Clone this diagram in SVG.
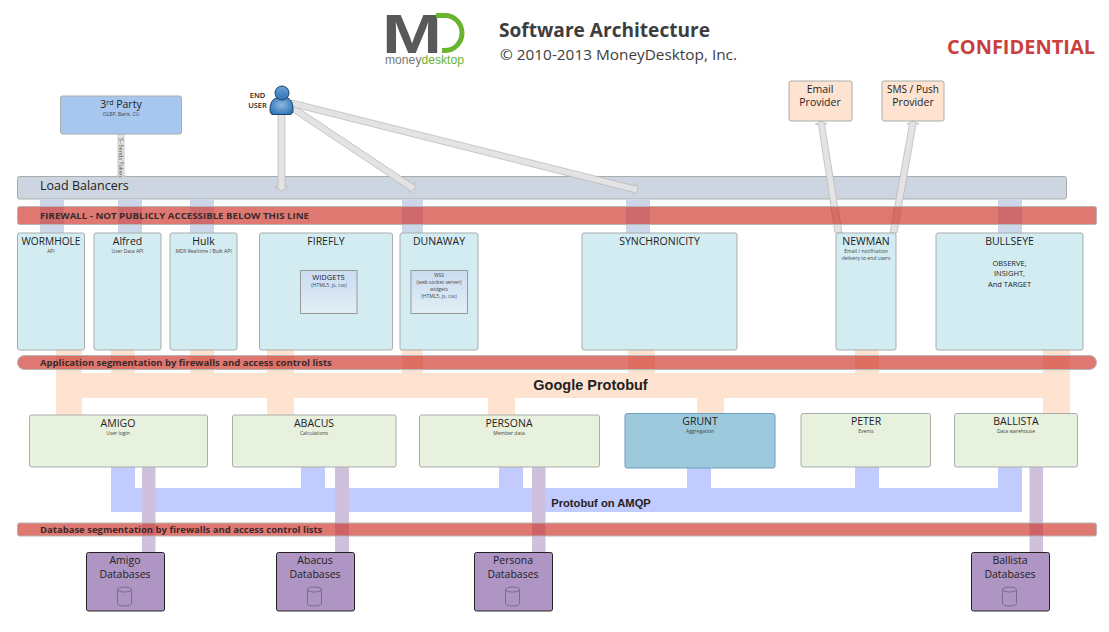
<svg xmlns="http://www.w3.org/2000/svg" width="1109" height="632" viewBox="0 0 1109 632">
<defs>
<linearGradient id="wg" x1="0" y1="0" x2="0" y2="1"><stop offset="0" stop-color="#cbdcf2"/><stop offset="1" stop-color="#e2eff6"/></linearGradient>
<linearGradient id="pg" x1="0" y1="0" x2="0" y2="1"><stop offset="0" stop-color="#6aa3d8"/><stop offset="1" stop-color="#2f73b5"/></linearGradient>
<radialGradient id="bg" cx="0.5" cy="0.45" r="0.6"><stop offset="0" stop-color="#8db8e2"/><stop offset="1" stop-color="#2f74b8"/></radialGradient>
</defs>
<style>
text{font-family:"Open Sans","Noto Sans","Liberation Sans",sans-serif;fill:#222}
.m{text-anchor:middle}
.t{font-size:10.5px}
.s{font-size:5px;fill:#444}
.n{stroke:#a9adab;stroke-width:1}
.app{fill:#d3ecf2}
.svc{fill:#e8f0de}
.db{fill:#af95c3;stroke:#222;stroke-width:1}
.cyl{fill:none;stroke:#6f5f80;stroke-width:.8}
.bar{fill:#cf3026;fill-opacity:.65;stroke:#b5b5b5;stroke-width:1}
.bl{fill:#ccd8ea}.or{fill:#fde3d0}.ind{fill:#c2cbfd}.li{fill:#cfc0dc}
.ar{fill:#e3e3e3;stroke:#b4b4b4;stroke-width:.7}
.bt{font-weight:700;font-size:9.5px;fill:#3a2a2a}
</style>
<g id="header">
<text x="382" y="53" textLength="60" lengthAdjust="spacingAndGlyphs" style="font-family:'Liberation Sans',sans-serif;font-size:55px;font-weight:700;fill:#58595b">M</text>
<path d="M436 15.500H445A17 17.500 0 0 1 445 50.500H442" fill="none" stroke="#69b32e" stroke-width="5"/>
<text x="385" y="64" textLength="79" lengthAdjust="spacingAndGlyphs" style="font-family:'Liberation Sans',sans-serif;font-size:12.500px;fill:#777"><tspan>money</tspan><tspan style="fill:#69b32e">desktop</tspan></text>
<text x="499" y="37" style="font-size:20px;font-weight:700;fill:#3d3d3d" textLength="211" lengthAdjust="spacingAndGlyphs">Software Architecture</text>
<text x="500" y="60" style="font-size:14.500px;fill:#3d3d3d" textLength="237" lengthAdjust="spacingAndGlyphs">© 2010-2013 MoneyDesktop, Inc.</text>
<text x="947" y="54" style="font-size:20px;font-weight:700;fill:#c8413d" textLength="148" lengthAdjust="spacingAndGlyphs">CONFIDENTIAL</text>
</g>
<g id="load-balancers"><rect class="n" x="17.500" y="176.500" width="1049" height="22.500" rx="2" fill="#cdd5e0"/><text x="40" y="190" style="font-size:12.500px">Load Balancers</text></g>
<g id="connectors">
<g class="bl"><rect x="40" y="199" width="24" height="34"/><rect x="118" y="199" width="24" height="34"/><rect x="190" y="199" width="24" height="34"/><rect x="402" y="199" width="21" height="34"/><rect x="626" y="199" width="24" height="34"/><rect x="998" y="199" width="24" height="34"/></g>
<g class="or"><rect x="56" y="373" width="1014" height="25"/><rect x="56" y="350" width="26" height="65"/><rect x="111" y="350" width="24" height="25"/><rect x="190" y="350" width="24" height="25"/><rect x="267" y="350" width="27" height="65"/><rect x="402" y="350" width="21" height="25"/><rect x="628" y="350" width="27" height="25"/><rect x="855" y="350" width="24" height="25"/><rect x="1043" y="350" width="27" height="65"/><rect x="488" y="396" width="27" height="19"/><rect x="697" y="396" width="27" height="19"/></g>
<g class="ind"><rect x="111" y="488" width="911" height="24"/><rect x="111" y="467" width="24" height="45"/><rect x="301" y="467" width="24" height="25"/><rect x="499" y="467" width="24" height="25"/><rect x="687" y="467" width="24" height="25"/><rect x="855" y="467" width="24" height="25"/><rect x="998" y="467" width="24" height="45"/></g>
<g class="li"><rect x="142" y="467" width="13.500" height="85"/><rect x="335" y="467" width="14" height="85"/><rect x="532" y="467" width="13.500" height="85"/><rect x="1029.500" y="467" width="13.500" height="85"/></g>
<g class="ar">
<polygon points="118,134 124,134 124,176 125.500,176 121,178.500 116.500,176 118,176"/>
<polygon points="278,113 285,113 285,187 288,187 281.500,191 275,187 278,187"/>
<polygon points="289.200,109.700 292.800,104.300 413.300,184.600 414.800,182.300 415,189 408.200,192.300 409.700,190"/>
<polygon points="290.200,106.100 291.800,99.900 635.800,186.200 636.500,183.500 638,190 633.500,195.100 634.200,192.400"/>
<polygon points="835,233 842,233 824.500,124 827,124 821,121 815,124.500 818.500,124.500"/>
<polygon points="890,233 897,233 916,124 919,124 913,121 907,124 909.500,124"/>
</g>
<text transform="translate(119,138) rotate(90)" style="font-size:5.500px;fill:#444">S--Sends Token</text>
<text class="m" x="590.500" y="390" style="font-family:'Liberation Sans',sans-serif;font-size:14.500px;font-weight:700;fill:#222">Google Protobuf</text>
<text class="m" x="601" y="507" style="font-family:'Liberation Sans',sans-serif;font-size:11.200px;font-weight:700;fill:#222">Protobuf on AMQP</text>
</g>
<g id="firewall"><rect class="bar" x="17.500" y="206.500" width="1079" height="18" rx="2"/><text class="bt" x="40" y="219" textLength="269" lengthAdjust="spacingAndGlyphs">FIREWALL - NOT PUBLICLY ACCESSIBLE BELOW THIS LINE</text></g>
<g id="app-segmentation"><rect class="bar" x="17.500" y="355.500" width="1079" height="14" rx="7"/><text class="bt" x="40" y="366">Application segmentation by firewalls and access control lists</text></g>
<g id="db-segmentation"><rect class="bar" x="17.500" y="523" width="1079" height="13" rx="2"/><text class="bt" x="40" y="533">Database segmentation by firewalls and access control lists</text></g>
<g id="third-party"><rect class="n" x="60.500" y="96" width="121" height="38" rx="2" fill="#a8c7ee"/><text class="m t" x="121" y="108">3<tspan dy="-3.500" style="font-size:7px">rd</tspan><tspan dy="3.500"> Party</tspan></text><text class="m s" x="121" y="116">OLBP, Bank, CU</text></g>
<g id="end-user"><path d="M270 110C270 101 274 97 282 97C290 97 293 101 293 110C293 113 292 114 290 114.500H273C271 114.500 270 113 270 110Z" fill="url(#bg)" stroke="#1d4468"/><circle cx="282" cy="93" r="7" fill="url(#pg)" stroke="#1d4468"/><text class="m" x="257.500" y="98" style="font-size:7.500px;font-weight:600">END</text><text class="m" x="257.500" y="108" style="font-size:7.500px;font-weight:600">USER</text></g>
<g id="email-provider"><rect class="n" x="789" y="81" width="63" height="40" rx="2" fill="#fde3d0"/><text class="m t" x="820" y="93">Email</text><text class="m t" x="820" y="106">Provider</text></g>
<g id="sms-provider"><rect class="n" x="882" y="81" width="62" height="40" rx="2" fill="#fde3d0"/><text class="m t" x="913" y="93" textLength="52" lengthAdjust="spacingAndGlyphs">SMS / Push</text><text class="m t" x="913" y="106">Provider</text></g>
<g id="wormhole"><rect class="n app" x="17.500" y="233" width="67" height="117" rx="2"/><text class="m t" x="51" y="245" textLength="59" lengthAdjust="spacingAndGlyphs">WORMHOLE</text><text class="m s" x="51" y="253">API</text></g>
<g id="alfred"><rect class="n app" x="94" y="233" width="67" height="117" rx="2"/><text class="m t" x="127.500" y="245">Alfred</text><text class="m s" x="127.500" y="253">User Data API</text></g>
<g id="hulk"><rect class="n app" x="170" y="233" width="67" height="117" rx="2"/><text class="m t" x="203.500" y="245">Hulk</text><text class="m s" x="203.500" y="253">MDX Realtime / Bulk API</text></g>
<g id="firefly"><rect class="n app" x="259.500" y="233" width="133" height="117" rx="2"/><text class="m t" x="326" y="245">FIREFLY</text>
<rect x="300.500" y="270.500" width="56.500" height="43" fill="url(#wg)" stroke="#999"/><text class="m" x="328.500" y="279.500" style="font-size:7.500px">WIDGETS</text><text class="m s" x="329" y="287">(HTML5, js, css)</text></g>
<g id="dunaway"><rect class="n app" x="400" y="233" width="78" height="117" rx="2"/><text class="m t" x="439" y="245">DUNAWAY</text>
<rect x="411" y="270.500" width="56.500" height="43" fill="url(#wg)" stroke="#999"/><text class="m s" x="439" y="277">WSS</text><text class="m s" x="439" y="284">(web socket server)</text><text class="m s" x="439" y="291">widgets</text><text class="m s" x="439" y="297.500">(HTML5, js, css)</text></g>
<g id="synchronicity"><rect class="n app" x="582" y="233" width="155" height="117" rx="2"/><text class="m t" x="659.500" y="245">SYNCHRONICITY</text></g>
<g id="newman"><rect class="n app" x="836" y="233" width="60" height="117" rx="2"/><text class="m t" x="866" y="245">NEWMAN</text><text class="m s" x="866" y="253">Email / notification</text><text class="m s" x="866" y="260">delivery to end users</text></g>
<g id="bullseye"><rect class="n app" x="936" y="233" width="147" height="117" rx="2"/><text class="m t" x="1009.500" y="245">BULLSEYE</text><text class="m" x="1009.500" y="266" style="font-size:7.500px">OBSERVE,</text><text class="m" x="1009.500" y="276" style="font-size:7.500px">INSIGHT,</text><text class="m" x="1009.500" y="287" style="font-size:7.500px">And TARGET</text></g>
<g id="amigo"><rect class="n svc" x="29.500" y="415" width="178" height="52" rx="2"/><text class="m t" x="118" y="427">AMIGO</text><text class="m s" x="118" y="435">User login</text></g>
<g id="abacus"><rect class="n svc" x="232.500" y="415" width="163.500" height="52" rx="2"/><text class="m t" x="314" y="427">ABACUS</text><text class="m s" x="314" y="435">Calculations</text></g>
<g id="persona"><rect class="n svc" x="419.500" y="415" width="180" height="52" rx="2"/><text class="m t" x="509" y="427">PERSONA</text><text class="m s" x="509" y="435">Member data</text></g>
<g id="grunt"><rect x="625" y="413.500" width="150" height="54.500" rx="2" fill="#9ccadc" stroke="#6f9fc0"/><text class="m t" x="700" y="425">GRUNT</text><text class="m s" x="700" y="433">Aggregation</text></g>
<g id="peter"><rect class="n svc" x="801" y="413.500" width="129.500" height="53.500" rx="2"/><text class="m t" x="866" y="425">PETER</text><text class="m s" x="866" y="433">Events</text></g>
<g id="ballista"><rect class="n svc" x="954.500" y="413.500" width="123" height="53.500" rx="2"/><text class="m t" x="1016" y="425">BALLISTA</text><text class="m s" x="1016" y="433">Data warehouse</text></g>
<g id="amigo-db"><rect class="db" x="86.500" y="552.500" width="78" height="58.500" rx="2"/><text class="m t" x="125" y="564">Amigo</text><text class="m t" x="125" y="578">Databases</text><path class="cyl" d="M117.500 589.500V603.500A7 2.500 0 0 0 131.500 603.500V589.500A7 2.500 0 0 0 117.500 589.500A7 2.500 0 0 0 131.500 589.500"/></g>
<g id="abacus-db"><rect class="db" x="276.500" y="552.500" width="78" height="58.500" rx="2"/><text class="m t" x="315" y="564">Abacus</text><text class="m t" x="315" y="578">Databases</text><path class="cyl" d="M307.500 589.500V603.500A7 2.500 0 0 0 321.500 603.500V589.500A7 2.500 0 0 0 307.500 589.500A7 2.500 0 0 0 321.500 589.500"/></g>
<g id="persona-db"><rect class="db" x="474.500" y="552.500" width="78" height="58.500" rx="2"/><text class="m t" x="513" y="564">Persona</text><text class="m t" x="513" y="578">Databases</text><path class="cyl" d="M505.500 589.500V603.500A7 2.500 0 0 0 519.500 603.500V589.500A7 2.500 0 0 0 505.500 589.500A7 2.500 0 0 0 519.500 589.500"/></g>
<g id="ballista-db"><rect class="db" x="971.500" y="552.500" width="78" height="58.500" rx="2"/><text class="m t" x="1010" y="564">Ballista</text><text class="m t" x="1010" y="578">Databases</text><path class="cyl" d="M1002.500 589.500V603.500A7 2.500 0 0 0 1016.500 603.500V589.500A7 2.500 0 0 0 1002.500 589.500A7 2.500 0 0 0 1016.500 589.500"/></g>
</svg>
